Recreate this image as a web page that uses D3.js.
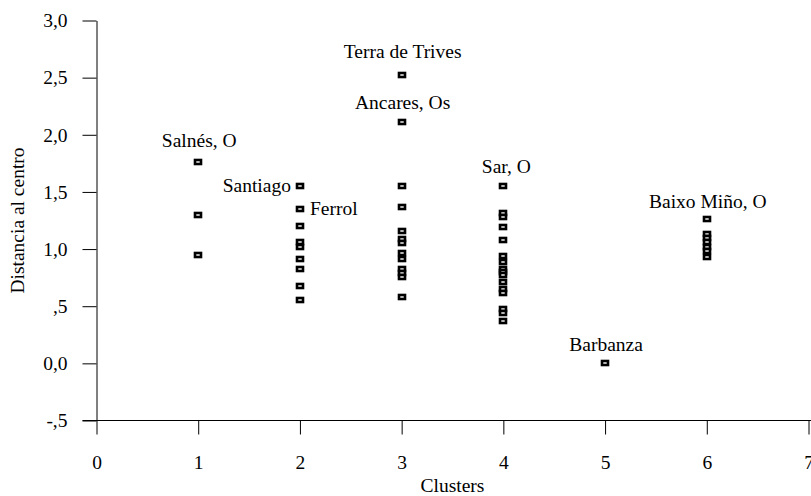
<!DOCTYPE html>
<html>
<head>
<meta charset="utf-8">
<title>Distancia al centro por cluster</title>
<script src="https://d3js.org/d3.v7.min.js"></script>
<style>
  body { margin: 0; background: #fff; }
  svg text { font-family: "Liberation Serif", "Times New Roman", serif; fill: #000; }
</style>
</head>
<body>
<div id="chart"></div>
<script>
// cluster of each comarca and its distance to the cluster centre
const cluster1 = [1.76, 1.30, 0.95];
const cluster2 = [1.55, 1.35, 1.20, 1.06, 1.02, 0.91, 0.83, 0.68, 0.55];
const cluster3 = [2.52, 2.11, 1.55, 1.37, 1.16, 1.09, 1.05, 0.97, 0.91, 0.83, 0.79, 0.76, 0.58];
const cluster4 = [1.55, 1.32, 1.28, 1.19, 1.08, 0.94, 0.89, 0.83, 0.80, 0.77, 0.71, 0.65, 0.62, 0.48, 0.44, 0.37];
const cluster5 = [0.0];
const cluster6 = [1.26, 1.13, 1.10, 1.06, 1.02, 0.98, 0.93];

const clusterValues = [cluster1, cluster2, cluster3, cluster4, cluster5, cluster6];

// named points
const labelled = [
  { name: "Salnés, O", cluster: 1, value: 1.76 },
  { name: "Santiago", cluster: 2, value: 1.55 },
  { name: "Ferrol", cluster: 2, value: 1.35 },
  { name: "Terra de Trives", cluster: 3, value: 2.52 },
  { name: "Ancares, Os", cluster: 3, value: 2.11 },
  { name: "Sar, O", cluster: 4, value: 1.55 },
  { name: "Barbanza", cluster: 5, value: 0.0 },
  { name: "Baixo Miño, O", cluster: 6, value: 1.26 }
];

const xTicks = [0, 1, 2, 3, 4, 5, 6, 7];
const xTickLabels = ["0", "1", "2", "3", "4", "5", "6", "7"];
const yTicks = [-0.5, 0, 0.5, 1, 1.5, 2, 2.5, 3];
const yTickLabels = ["-,5", "0,0", ",5", "1,0", "1,5", "2,0", "2,5", "3,0"];

// label placement (offset from the point)
const placement = {
  "Salnés, O": { anchor: "middle", dx: 1, dy: -15 },
  "Santiago": { anchor: "end", dx: -9, dy: 6 },
  "Ferrol": { anchor: "start", dx: 10, dy: 6 },
  "Terra de Trives": { anchor: "middle", dx: 1, dy: -17 },
  "Ancares, Os": { anchor: "middle", dx: 1, dy: -13 },
  "Sar, O": { anchor: "middle", dx: 3, dy: -13 },
  "Barbanza": { anchor: "middle", dx: 1, dy: -12 },
  "Baixo Miño, O": { anchor: "middle", dx: 1, dy: -11 }
};

const width = 811;
const height = 496;
const fontSize = 19.5;

const points = [];
clusterValues.forEach((vals, i) => vals.forEach(v => points.push({ cluster: i + 1, value: v })));

const x = d3.scaleLinear().domain([0, 7]).range([96.5, 808.5]);
const y = d3.scaleLinear().domain([-0.5, 3]).range([420.5, 20.5]);

const svg = d3.select("#chart")
  .append("svg")
  .attr("width", width)
  .attr("height", height);

// x axis
const xAxis = svg.append("g")
  .attr("transform", `translate(0,${y(-0.5)})`)
  .call(d3.axisBottom(x).tickValues(xTicks).tickSize(14).tickSizeOuter(0).tickPadding(21)
    .tickFormat((d, i) => xTickLabels[i]));
xAxis.select(".domain").remove();
xAxis.append("line")
  .attr("x1", x(0) - 14).attr("x2", width)
  .attr("stroke", "#000");

// y axis
const yAxis = svg.append("g")
  .attr("transform", `translate(${x(0)},0)`)
  .call(d3.axisLeft(y).tickValues(yTicks).tickSize(14).tickSizeOuter(0).tickPadding(15)
    .tickFormat((d, i) => yTickLabels[i]));

svg.selectAll(".tick line").attr("stroke", "#000");
svg.selectAll(".domain").attr("stroke", "#000");
svg.selectAll(".tick text")
  .style("font-family", '"Liberation Serif", serif')
  .style("font-size", fontSize + "px");

// axis titles
svg.append("text")
  .attr("x", (x(0) + x(7)) / 2)
  .attr("y", 492)
  .attr("text-anchor", "middle")
  .style("font-size", fontSize + "px")
  .text("Clusters");

svg.append("text")
  .attr("transform", `translate(24,${y(1.25)}) rotate(-90)`)
  .attr("text-anchor", "middle")
  .style("font-size", fontSize + "px")
  .text("Distancia al centro");

// markers
svg.selectAll(".pt")
  .data(points)
  .enter()
  .append("rect")
  .attr("class", "pt")
  .attr("x", d => Math.round(x(d.cluster)) - 3)
  .attr("y", d => Math.round(y(d.value)) - 2)
  .attr("width", 6)
  .attr("height", 4)
  .attr("fill", "#fff")
  .attr("stroke", "#000")
  .attr("stroke-width", 2.6);

// point labels
svg.selectAll(".lbl")
  .data(labelled)
  .enter()
  .append("text")
  .attr("class", "lbl")
  .attr("x", d => x(d.cluster) + placement[d.name].dx)
  .attr("y", d => y(d.value) + placement[d.name].dy)
  .attr("text-anchor", d => placement[d.name].anchor)
  .style("font-size", fontSize + "px")
  .text(d => d.name);
</script>
</body>
</html>
